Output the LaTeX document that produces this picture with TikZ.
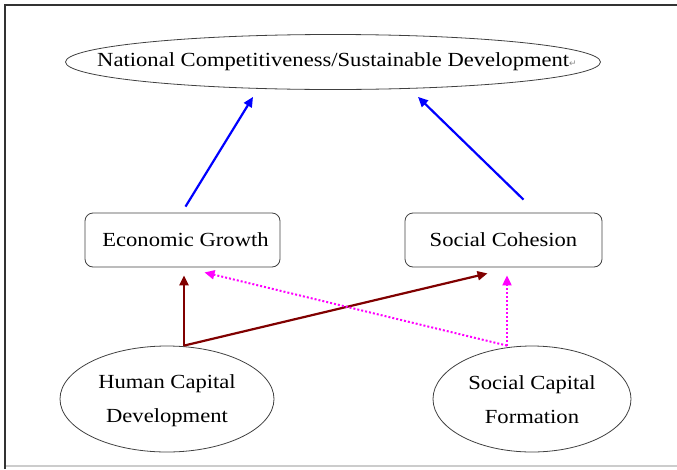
\documentclass[tikz,border=0pt]{standalone}
\usepackage{fontspec}
\setmainfont[FakeStretch=1.13]{Liberation Serif}
\newfontfamily\parasign{DejaVu Sans}
\usetikzlibrary{shapes.geometric,arrows.meta}
\definecolor{linkpink}{RGB}{255,0,255}
\tikzset{
  oval/.style={ellipse,draw=black!75,line width=0.8pt,inner sep=0pt},
  box/.style={rectangle,rounded corners=8pt,draw=black!75,line width=0.8pt,inner sep=0pt},
  lbl/.style={font=\fontsize{20}{34}\selectfont,align=center},
  toplink/.style={blue,line width=2.2pt,-{Triangle[length=10pt,width=9pt]}},
  hclink/.style={red!50!black,line width=2.2pt,-{Triangle[length=10pt,width=9pt]}},
  sclink/.style={linkpink,line width=2pt,dash pattern=on 2pt off 2pt,-{Triangle[length=10pt,width=9pt]}}
}
\begin{document}
\begin{tikzpicture}[x=1pt,y=-1pt]
  \useasboundingbox (0,0) rectangle (677,469);
  \draw[black!20,line width=1.5pt] (5,466) -- (677,466);
  \draw[black!80,line width=2.4pt] (5,469) -- (5,5) -- (677,5);

  \node[oval,minimum width=535pt,minimum height=55pt] (ncsd) at (333,62) {};
  \node[lbl] at ([xshift=4pt]ncsd) {National Competitiveness/Sustainable Development{\parasign\color{black!45}\fontsize{9}{9}\selectfont ↵}};
  \node[box,minimum width=195pt,minimum height=54pt] (eg) at (182.5,240) {};
  \node[lbl] at ([xshift=3pt]eg) {Economic Growth};
  \node[box,minimum width=197pt,minimum height=54pt] (sc) at (503.5,240) {};
  \node[lbl] at (sc) {Social Cohesion};
  \node[oval,minimum width=214pt,minimum height=106pt] (hcd) at (167,399) {};
  \node[lbl] at ([yshift=-2pt]hcd) {Human Capital\\ Development};
  \node[oval,minimum width=198pt,minimum height=106pt] (scf) at (532,399) {};
  \node[lbl] at ([yshift=-1pt]scf) {Social Capital\\ Formation};

  \coordinate (hcdtop) at ([xshift=17pt]hcd.north);
  \coordinate (scftop) at ([xshift=-25pt]scf.north);

  \draw[toplink] ([xshift=3pt,yshift=6pt]eg.north) -- ([xshift=-80pt,yshift=-7pt]ncsd.south);
  \draw[toplink] ([xshift=20pt,yshift=13pt]sc.north) -- ([xshift=85pt,yshift=-7pt]ncsd.south);
  \draw[hclink] (hcdtop) -- ([xshift=1.5pt,yshift=-8pt]eg.south);
  \draw[hclink] (hcdtop) -- ([xshift=-16pt,yshift=-6pt]sc.south);
  \draw[sclink] (scftop) -- ([xshift=22pt,yshift=-5pt]eg.south);
  \draw[sclink] (scftop) -- ([xshift=3.5pt,yshift=-8pt]sc.south);
\end{tikzpicture}
\end{document}
